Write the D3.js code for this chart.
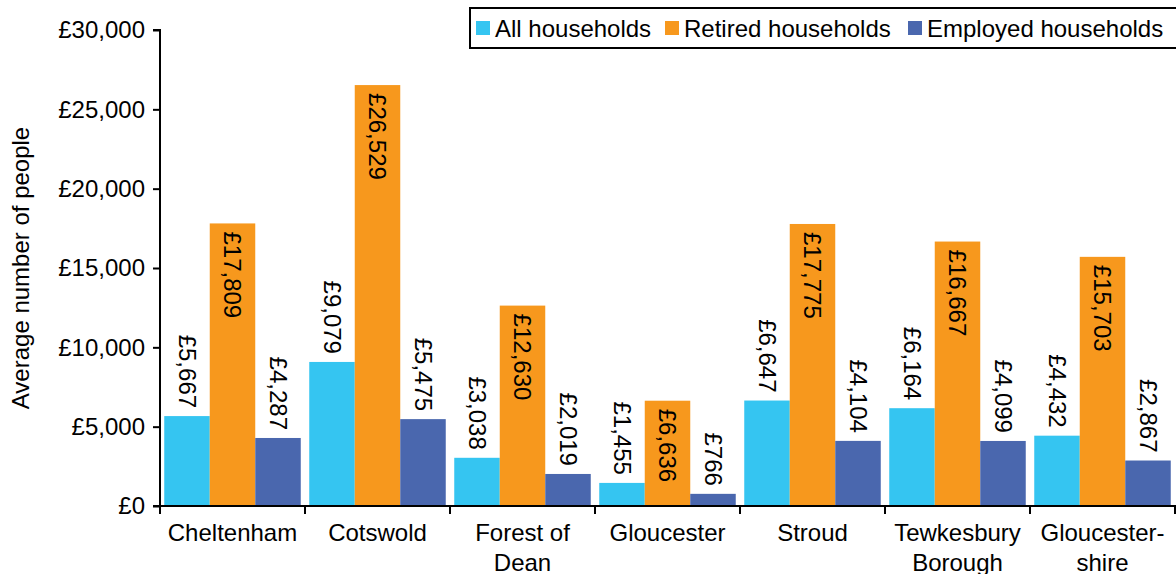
<!DOCTYPE html>
<html><head><meta charset="utf-8">
<script src="https://cdn.jsdelivr.net/npm/d3@7"></script>
<style>body{margin:0;background:#fff}svg{display:block;font-family:"Liberation Sans",Arial,sans-serif}</style>
</head><body><svg id="c" width="1176" height="574"></svg>
<script>
const categories = [["Cheltenham"],["Cotswold"],["Forest of","Dean"],["Gloucester"],["Stroud"],["Tewkesbury","Borough"],["Gloucester-","shire"]];
const seriesNames = ["All households","Retired households","Employed households"];
const allHouseholds = [5667, 9079, 3038, 1455, 6647, 6164, 4432];
const retiredHouseholds = [17809, 26529, 12630, 6636, 17775, 16667, 15703];
const employedHouseholds = [4287, 5475, 2019, 766, 4104, 4099, 2867];
const yTicks = [0, 5000, 10000, 15000, 20000, 25000, 30000];
const colors = ["#35C5F1", "#F7981D", "#4A67AE"];
const seriesValues = [allHouseholds, retiredHouseholds, employedHouseholds];

const svg = d3.select("#c");
const fmt = v => "£" + d3.format(",")(v);
const keys = categories.map(c => c.join(" "));
const x = d3.scaleBand().domain(keys).range([160, 1175]).paddingInner(0).paddingOuter(0);
const bw = x.bandwidth();
const xs = d3.scaleBand().domain(seriesNames).range([4.25, bw - 4.25]).padding(0);
const y = d3.scaleLinear().domain([0, 30000]).range([506, 30]);

// bars
seriesNames.forEach((s, si) => {
  const g = svg.append("g");
  g.selectAll("rect").data(seriesValues[si]).join("rect")
    .attr("x", (d, i) => x(keys[i]) + xs(s))
    .attr("y", d => y(d))
    .attr("width", xs.bandwidth())
    .attr("height", d => y(0) - y(d))
    .attr("fill", colors[si]);
  g.selectAll("text").data(seriesValues[si]).join("text")
    .attr("transform", (d, i) => {
      const cx = x(keys[i]) + xs(s) + xs.bandwidth() / 2;
      const cy = si === 1 ? y(d) + 8 : y(d) - 8;
      return `translate(${cx},${cy}) rotate(90)`;
    })
    .attr("text-anchor", si === 1 ? "start" : "end")
    .attr("dominant-baseline", "central")
    .attr("font-size", 24)
    .attr("fill", "#000")
    .text(d => fmt(d));
});

// y axis
const yAxis = d3.axisLeft(y).tickValues(yTicks).tickFormat(fmt).tickSize(7).tickPadding(8);
const ya = svg.append("g").attr("transform", "translate(160,0)").call(yAxis);
ya.select(".domain").attr("stroke", "#000").attr("stroke-width", 2).attr("d", "M-7,30H0V506H-7");
ya.selectAll(".tick line").attr("stroke", "#000").attr("stroke-width", 2);
ya.selectAll(".tick text").attr("font-size", 24).attr("font-family", "Liberation Sans, Arial, sans-serif").attr("fill", "#000");

// x axis
svg.append("line").attr("x1", 159).attr("x2", 1176).attr("y1", 506).attr("y2", 506).attr("stroke", "#000").attr("stroke-width", 2);
const bounds = keys.map(k => x(k)).concat([x(keys[keys.length - 1]) + bw]);
svg.selectAll(".xt").data(bounds).join("line").attr("class", "xt")
  .attr("x1", d => d).attr("x2", d => d).attr("y1", 506).attr("y2", 514)
  .attr("stroke", "#000").attr("stroke-width", 2);
const xl = svg.selectAll(".xl").data(categories).join("text").attr("class", "xl")
  .attr("text-anchor", "middle").attr("font-size", 24).attr("fill", "#000");
xl.each(function(lines, i) {
  const t = d3.select(this);
  lines.forEach((ln, j) => {
    t.append("tspan").attr("x", x(keys[i]) + bw / 2).attr("y", 541 + j * 30).text(ln);
  });
});

// y title
svg.append("text").attr("transform", "translate(29,268) rotate(-90)")
  .attr("text-anchor", "middle").attr("font-size", 24).attr("fill", "#000")
  .text("Average number of people");

// legend
svg.append("rect").attr("x", 470).attr("y", 8).attr("width", 720).attr("height", 40)
  .attr("fill", "#fff").attr("stroke", "#000").attr("stroke-width", 2);
const legX = [476, 665, 908];
seriesNames.forEach((s, i) => {
  svg.append("rect").attr("x", legX[i]).attr("y", 21).attr("width", 14).attr("height", 14).attr("fill", colors[i]);
  svg.append("text").attr("x", legX[i] + 19).attr("y", 37).attr("font-size", 24).attr("fill", "#000").text(s);
});
</script></body></html>
